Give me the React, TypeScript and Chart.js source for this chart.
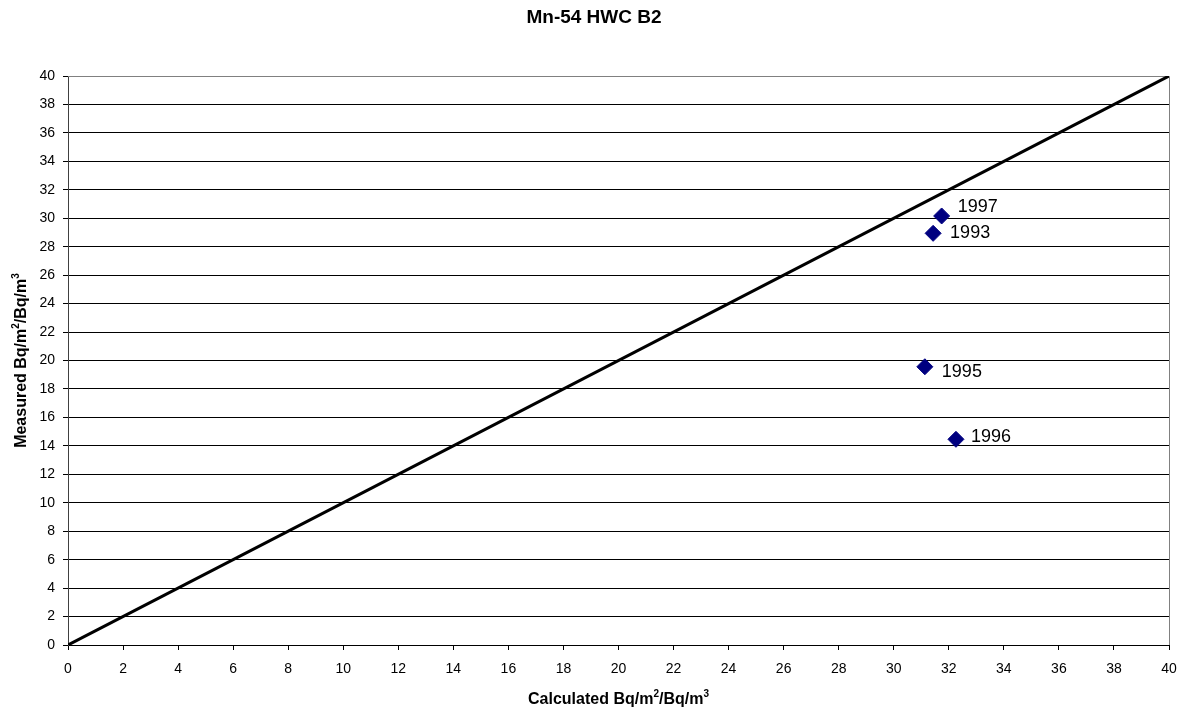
import React, { useEffect, useRef } from "react";
import { Chart, registerables } from "chart.js";

Chart.register(...registerables);

const chartTitle = "Mn-54 HWC B2";
const years = ["1997", "1993", "1995", "1996"];
const calculated = [31.74, 31.43, 31.13, 32.26];
const measured = [30.16, 28.94, 19.56, 14.46];
const lineX = [0, 40];
const lineY = [0, 40];
const xTitleParts = ["Calculated Bq/m", "2", "/Bq/m", "3"];
const yTitleParts = ["Measured Bq/m", "2", "/Bq/m", "3"];
const labelOffsets = [
  [16, -9],
  [17, 0],
  [17, 5],
  [15, -2],
];

const FONT = "'Liberation Sans', Arial, sans-serif";

function drawSupText(ctx: any, parts: string[], cx: number, cy: number) {
  const main = `bold 16px ${FONT}`;
  const sup = `bold 10px ${FONT}`;
  let total = 0;
  parts.forEach((p, i) => {
    ctx.font = i % 2 === 0 ? main : sup;
    total += ctx.measureText(p).width;
  });
  let x = cx - total / 2;
  ctx.textBaseline = "alphabetic";
  ctx.textAlign = "left";
  parts.forEach((p, i) => {
    const isSup = i % 2 === 1;
    ctx.font = isSup ? sup : main;
    ctx.fillText(p, x, isSup ? cy + 6 - 7 : cy + 6);
    x += ctx.measureText(p).width;
  });
}

const textPlugin = {
  id: "texts",
  afterDraw(chart: any) {
    const ctx = chart.ctx;
    const { left, right, top, bottom } = chart.chartArea;
    ctx.save();
    ctx.fillStyle = "#000";
    // chart title
    ctx.font = `bold 19px ${FONT}`;
    ctx.textAlign = "center";
    ctx.textBaseline = "middle";
    ctx.fillText(chartTitle, 594, 18);
    // x title
    drawSupText(ctx, xTitleParts, (left + right) / 2, 698);
    // y title
    ctx.save();
    ctx.translate(20, (top + bottom) / 2);
    ctx.rotate(-Math.PI / 2);
    drawSupText(ctx, yTitleParts, 0, 0);
    ctx.restore();
    ctx.restore();
  },
};

const labelPlugin = {
  id: "pointLabels",
  afterDatasetsDraw(chart: any) {
    const meta = chart.getDatasetMeta(1);
    const ctx = chart.ctx;
    ctx.save();
    ctx.font = `18px ${FONT}`;
    ctx.fillStyle = "#000";
    ctx.textAlign = "left";
    ctx.textBaseline = "middle";
    meta.data.forEach((el: any, i: number) => {
      const [dx, dy] = labelOffsets[i];
      ctx.fillText(years[i], el.x + dx, el.y + dy);
    });
    ctx.restore();
  },
};

const framePlugin = {
  id: "frame",
  beforeDatasetsDraw(chart: any) {
    const { left, right, top, bottom } = chart.chartArea;
    const ctx = chart.ctx;
    ctx.save();
    ctx.strokeStyle = "#808080";
    ctx.lineWidth = 1;
    ctx.beginPath();
    ctx.moveTo(left, top + 0.5);
    ctx.lineTo(right + 0.5, top + 0.5);
    ctx.lineTo(right + 0.5, bottom);
    ctx.stroke();
    ctx.restore();
  },
};

export default function App() {
  const ref = useRef<HTMLCanvasElement>(null);
  useEffect(() => {
    document.body.style.margin = "0";
    const chart = new Chart(ref.current!, {
      type: "scatter",
      data: {
        datasets: [
          {
            type: "line",
            data: lineX.map((x, i) => ({ x, y: lineY[i] })),
            borderColor: "#000",
            borderWidth: 3,
            pointRadius: 0,
            fill: false,
          },
          {
            data: calculated.map((x, i) => ({ x, y: measured[i] })),
            backgroundColor: "#000080",
            borderColor: "#000080",
            borderWidth: 1,
            pointStyle: "rectRot",
            pointRadius: 8,
            pointHoverRadius: 8,
          },
        ],
      },
      options: {
        animation: false,
        responsive: false,
        events: [],
        layout: { padding: { left: 0, right: 19, top: 76, bottom: 0 } },
        plugins: {
          legend: { display: false },
          tooltip: { enabled: false },
          title: { display: false },
        },
        scales: {
          x: {
            type: "linear",
            min: 0,
            max: 40,
            afterFit: (s: any) => { s.height = 68; },
            ticks: {
              stepSize: 2,
              color: "#000",
              font: { family: FONT, size: 14 },
              padding: 11,
              maxRotation: 0,
            },
            grid: {
              drawOnChartArea: false,
              drawTicks: true,
              tickLength: 5,
              color: "#000",
            },
            border: { color: "#000", width: 1 },
          },
          y: {
            type: "linear",
            min: 0,
            max: 40,
            afterFit: (s: any) => { s.width = 68; },
            ticks: {
              stepSize: 2,
              color: "#000",
              font: { family: FONT, size: 14 },
              padding: 8,
            },
            grid: {
              color: (c: any) => (c.tick && c.tick.value === 40 ? "#808080" : "#000"),
              tickLength: 5,
              tickColor: "#000",
            },
            border: { color: "#404040", width: 1 },
          },
        },
      },
      plugins: [framePlugin, labelPlugin, textPlugin],
    } as any);
    return () => chart.destroy();
  }, []);
  return (
    <div style={{ width: 1188, height: 713 }}>
      <canvas ref={ref} width={1188} height={713} style={{ display: "block" }} />
    </div>
  );
}
